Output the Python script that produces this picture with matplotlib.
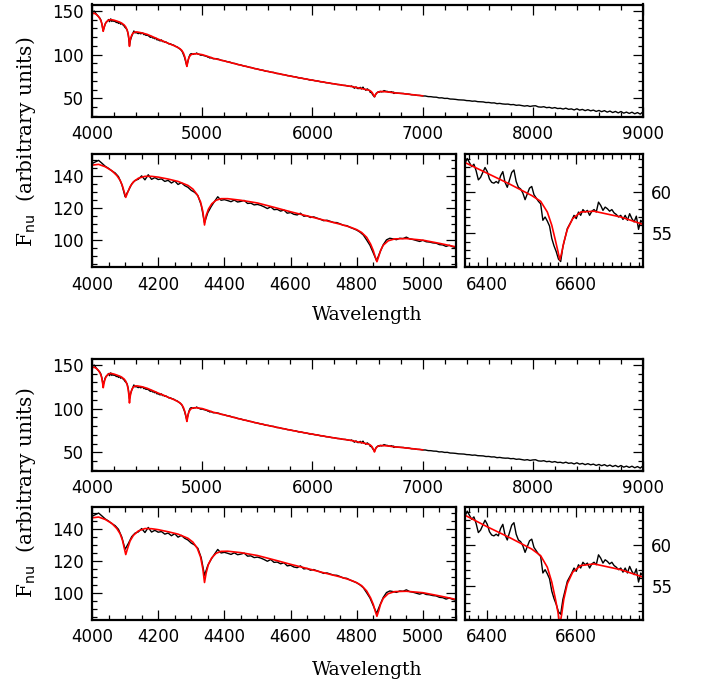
import numpy as np
import matplotlib
matplotlib.use('Agg')
import matplotlib.pyplot as plt
from matplotlib.ticker import MultipleLocator

# observed spectrum, blue part (4000-5100, 10 A steps)
blueWave = np.arange(4000, 5101, 10)
blueFlux = [148.0, 149.0, 150.0, 148.2, 146.3, 145.0, 143.4, 142.1, 139.8, 135.0,
            127.3, 131.0, 135.2, 137.4, 138.2, 140.3, 137.8, 141.0, 138.1, 139.2,
            138.0, 138.4, 136.8, 137.5, 135.8, 137.1, 134.9, 136.0, 134.2, 133.1,
            131.2, 130.0, 127.9, 122.0, 111.0, 117.2, 121.0, 124.2, 127.2, 125.0,
            125.4, 124.8, 124.1, 125.1, 123.9, 124.3, 124.9, 123.0, 123.2, 122.1,
            122.4, 121.8, 120.9, 119.8, 120.9, 119.1, 119.3, 118.2, 118.9, 116.9,
            117.3, 116.2, 115.8, 116.9, 115.0, 115.3, 114.2, 114.6, 113.8, 113.1,
            112.2, 112.5, 111.8, 111.1, 111.0, 110.2, 109.3, 109.1, 108.0, 107.2,
            106.3, 105.0, 103.2, 100.1, 96.8, 92.0, 87.2, 92.3, 97.1, 100.2,
            101.2, 100.8, 100.3, 101.2, 101.0, 101.9, 100.8, 100.4, 99.8, 99.2,
            99.9, 99.0, 98.8, 98.3, 98.1, 97.2, 97.0, 96.1, 96.8, 95.9,
            95.3]

# observed spectrum, 5125-6325 (25 A steps)
midWave = np.arange(5125, 6326, 25)
midFlux = [95.4, 94.7, 93.4, 93.0, 91.9, 91.5, 90.2, 89.8, 88.6, 88.2,
           87.0, 86.6, 85.6, 85.1, 84.0, 83.6, 82.6, 82.2, 81.0, 80.8,
           79.9, 79.6, 78.4, 78.2, 77.2, 76.9, 75.9, 75.6, 74.8, 74.5,
           73.3, 73.2, 72.3, 72.0, 70.9, 70.9, 70.0, 69.8, 68.8, 68.7,
           67.8, 67.6, 66.8, 66.6, 65.8, 65.6, 64.8, 64.7, 63.9]

# observed spectrum around H-alpha (6350-6750, 5 A steps)
haWave = np.arange(6350, 6751, 5)
haFlux = [63.5, 64.1, 63.6, 63.1, 63.4, 62.6, 61.5, 61.8, 62.4, 63.0,
          62.5, 61.6, 61.2, 61.1, 61.3, 61.1, 62.0, 62.5, 61.2, 60.6,
          61.5, 62.4, 62.7, 61.3, 60.6, 60.4, 59.9, 59.1, 59.8, 60.5,
          60.7, 59.7, 59.3, 58.9, 58.6, 56.6, 57.0, 56.5, 55.9, 54.4,
          53.5, 52.8, 51.9, 51.6, 53.4, 54.5, 55.6, 56.1, 56.6, 57.2,
          56.8, 57.6, 57.2, 57.9, 57.6, 57.8, 57.2, 57.7, 57.9, 57.6,
          58.8, 58.4, 57.8, 58.2, 58.0, 57.7, 57.9, 57.5, 57.3, 57.0,
          57.2, 56.7, 57.2, 56.6, 57.4, 56.8, 56.4, 57.1, 55.5, 56.6,
          56.2]

# observed spectrum, red end (6775-9000, 25 A steps)
redWave = np.arange(6775, 9001, 25)
redFlux = [55.9, 55.6, 55.5, 54.9, 54.8, 54.0, 53.9, 53.3, 53.2, 52.6,
           52.6, 51.9, 51.8, 51.3, 51.2, 50.4, 50.5, 49.8, 49.9, 49.1,
           49.0, 48.7, 48.2, 48.0, 47.9, 47.3, 47.2, 46.6, 46.8, 46.1,
           45.9, 45.8, 45.1, 45.2, 44.6, 44.7, 43.8, 44.1, 43.5, 43.2,
           43.3, 42.6, 42.8, 41.9, 42.2, 41.6, 41.0, 41.5, 40.6, 41.2,
           41.4, 40.1, 39.8, 40.3, 39.2, 39.6, 38.6, 39.3, 38.2, 38.5,
           37.6, 38.6, 37.3, 37.8, 36.6, 37.9, 36.4, 37.2, 35.8, 36.9,
           35.6, 36.4, 34.9, 36.0, 34.6, 35.8, 34.1, 35.3, 33.6, 34.9,
           33.2, 34.8, 32.9, 34.1, 32.6, 34.0, 32.2, 33.6, 31.8, 34.5]

# model spectra (two fits) on a common wavelength grid
modelWave = [4000, 4020, 4040, 4060, 4075, 4085, 4092, 4097, 4102, 4107,
             4115, 4125, 4140, 4160, 4180, 4200, 4230, 4260, 4290, 4305,
             4318, 4328, 4335, 4340, 4345, 4352, 4362, 4375, 4390, 4410,
             4450, 4500, 4550, 4600, 4650, 4700, 4750, 4780, 4800, 4815,
             4830, 4842, 4850, 4856, 4861, 4866, 4872, 4880, 4895, 4915,
             4950, 5000, 5050, 5100, 5200, 5300, 5400, 5500, 5600, 5700,
             5800, 5900, 6000, 6100, 6200, 6300, 6350, 6400, 6450, 6500,
             6520, 6535, 6545, 6553, 6559, 6563, 6567, 6572, 6580, 6592,
             6610, 6640, 6700, 6750, 6800, 6900, 7000]
modelFluxA = [147.0, 147.5, 146.0, 143.5, 140.5, 137.5, 134.0, 130.5, 126.8, 129.5,
              133.5, 136.5, 138.8, 140.0, 140.0, 139.5, 138.3, 136.8, 134.3, 132.0,
              128.5, 124.0, 118.0, 109.5, 115.5, 119.5, 122.8, 125.0, 126.0, 126.0,
              125.0, 123.3, 120.6, 117.8, 115.2, 112.6, 110.0, 108.2, 106.6, 104.8,
              101.8, 97.5, 93.5, 89.5, 86.5, 89.5, 93.5, 96.8, 99.6, 100.8,
              101.0, 100.0, 98.0, 95.8, 92.8, 89.5, 86.4, 83.4, 80.6, 78.0,
              75.4, 73.0, 70.7, 68.5, 66.4, 64.5, 63.6, 62.3, 61.0, 59.6,
              58.9, 57.6, 56.0, 54.2, 52.8, 51.8, 52.6, 53.9, 55.5, 56.8,
              57.6, 57.7, 57.0, 56.1, 55.6, 54.2, 52.8]
modelFluxB = [147.0, 147.5, 146.0, 143.5, 140.3, 137.0, 133.0, 128.5, 124.0, 127.5,
              132.5, 136.0, 138.8, 140.3, 140.2, 139.6, 138.3, 136.8, 134.2, 131.8,
              128.0, 122.5, 115.0, 106.5, 112.5, 118.0, 122.0, 124.8, 126.0, 126.1,
              125.2, 123.4, 120.7, 117.9, 115.3, 112.6, 110.0, 108.1, 106.4, 104.5,
              101.2, 96.8, 92.8, 88.5, 85.3, 88.5, 92.8, 96.5, 99.5, 100.8,
              101.0, 100.1, 98.1, 95.9, 92.8, 89.5, 86.4, 83.4, 80.6, 78.0,
              75.4, 73.0, 70.7, 68.5, 66.4, 64.5, 63.6, 62.2, 60.9, 59.5,
              58.7, 57.3, 55.5, 53.5, 51.8, 50.3, 51.5, 53.4, 55.3, 56.7,
              57.5, 57.7, 57.0, 56.1, 55.6, 54.2, 52.8]

obsWave = np.concatenate([blueWave, midWave, haWave, redWave])
obsFlux = np.concatenate([blueFlux, midFlux, haFlux, redFlux])

plt.rcParams['font.family'] = 'DejaVu Sans'
plt.rcParams['font.size'] = 12


def styleAxes(ax, xMajor, xMinor, yMajor, yMinor):
    for s in ax.spines.values():
        s.set_linewidth(1.6)
    ax.xaxis.set_major_locator(MultipleLocator(xMajor))
    ax.xaxis.set_minor_locator(MultipleLocator(xMinor))
    ax.yaxis.set_major_locator(MultipleLocator(yMajor))
    ax.yaxis.set_minor_locator(MultipleLocator(yMinor))
    ax.tick_params(which='both', direction='in', top=True, right=True, width=0.9)
    ax.tick_params(which='major', length=7, labelsize=12, pad=6)
    ax.tick_params(which='minor', length=3.5)


def drawGroup(yTop, yBot, model):
    # full range
    ax = fig.add_axes([92/701, yTop, 551/701, 112.5/684])
    ax.plot(obsWave, obsFlux, color='black', lw=1.0)
    ax.plot(modelWave, model, color='red', lw=1.2)
    ax.set_xlim(4000, 9000)
    ax.set_ylim(28.5, 157.5)
    styleAxes(ax, 1000, 200, 50, 10)

    # blue Balmer lines
    ax = fig.add_axes([92/701, yBot, 364/701, 113/684])
    ax.plot(obsWave, obsFlux, color='black', lw=1.0)
    ax.plot(modelWave, model, color='red', lw=1.2)
    ax.set_xlim(4000, 5100)
    ax.set_ylim(83, 153.8)
    styleAxes(ax, 200, 50, 20, 5)

    # H-alpha
    ax = fig.add_axes([465/701, yBot, 178/701, 113/684])
    ax.plot(obsWave, obsFlux, color='black', lw=1.0)
    ax.plot(modelWave, model, color='red', lw=1.2)
    ax.set_xlim(6350, 6750)
    ax.set_ylim(50.9, 64.6)
    styleAxes(ax, 200, 20, 5, 1)
    ax.tick_params(labelleft=False, labelright=True)


fig = plt.figure(figsize=(7.01, 6.84), dpi=100)

drawGroup((684-117)/684, (684-267.3)/684, modelFluxA)
drawGroup((684-471)/684, (684-620)/684, modelFluxB)

for yLab, yWav in [(142/684, 315/684), (493/684, 670/684)]:
    fig.text(26/701, 1 - yLab, r'F$_{\rm nu}$  (arbitrary units)', rotation=90,
             ha='center', va='center', family='DejaVu Serif', fontsize=14.5)
    fig.text(367/701, 1 - yWav, 'Wavelength', ha='center', va='center',
             family='DejaVu Serif', fontsize=13.5)

fig.savefig('out.png', dpi=100)
